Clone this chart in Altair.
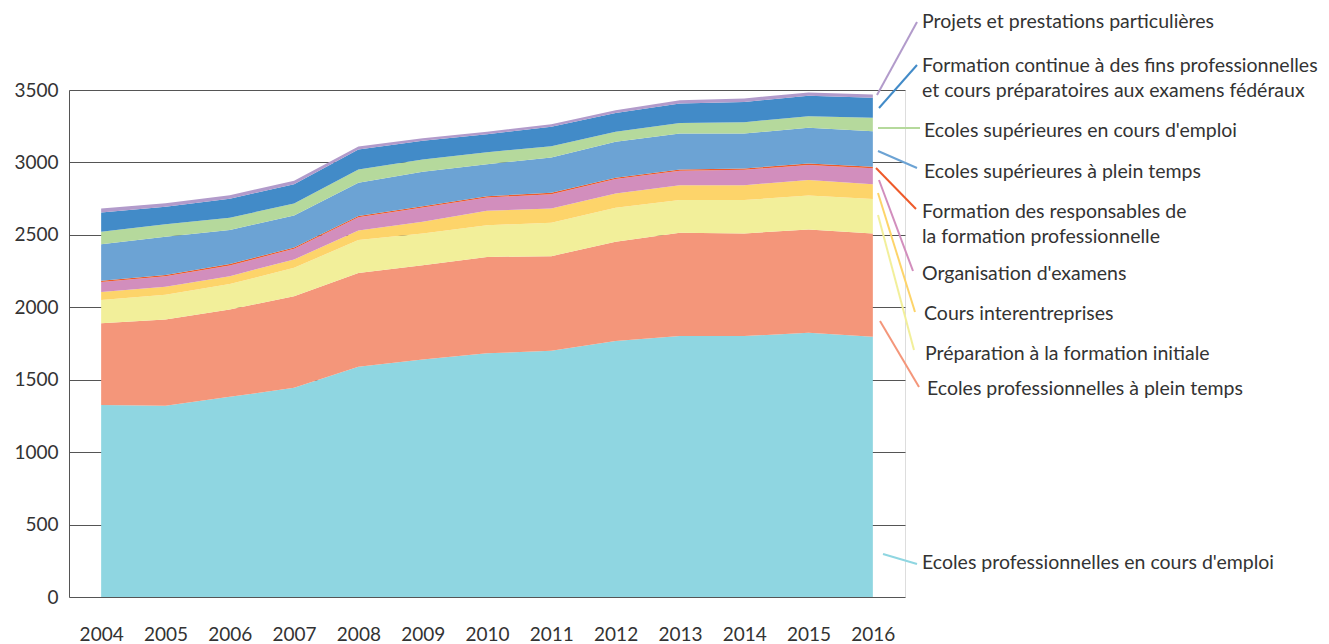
import altair as alt
import pandas as pd

years = list(range(2004, 2017))

series_names = [
    "Ecoles professionnelles en cours d'emploi",
    "Ecoles professionnelles à plein temps",
    "Préparation à la formation initiale",
    "Cours interentreprises",
    "Organisation d'examens",
    "Formation des responsables de la formation professionnelle",
    "Ecoles supérieures à plein temps",
    "Ecoles supérieures en cours d'emploi",
    "Formation continue à des fins professionnelles et cours préparatoires aux examens fédéraux",
    "Projets et prestations particulières",
]

ep_emploi = [1325, 1320, 1382, 1444, 1589, 1640, 1682, 1700, 1767, 1801, 1801, 1824, 1796]
ep_plein = [564, 596, 603, 633, 647, 651, 666, 653, 685, 713, 709, 713, 714]
prep_init = [161, 170, 175, 196, 228, 219, 219, 230, 235, 226, 230, 235, 237]
cours_inter = [55, 55, 55, 57, 66, 80, 99, 99, 99, 103, 103, 106, 103]
org_exam = [69, 74, 74, 74, 92, 99, 92, 99, 99, 99, 106, 105, 110]
form_resp = [9, 8, 9, 9, 9, 9, 9, 9, 9, 10, 9, 10, 10]
es_plein = [253, 264, 235, 221, 228, 237, 221, 244, 248, 248, 242, 246, 246]
es_emploi = [85, 86, 85, 83, 93, 86, 83, 78, 69, 73, 78, 80, 92]
form_cont = [134, 121, 131, 133, 138, 128, 124, 134, 131, 134, 140, 141, 138]
projets = [27, 24, 25, 23, 20, 18, 17, 18, 19, 23, 24, 23, 23]

series_values = [ep_emploi, ep_plein, prep_init, cours_inter, org_exam,
                 form_resp, es_plein, es_emploi, form_cont, projets]

colors = ["#8fd6e1", "#f4967a", "#f2ef9a", "#fdd46a", "#d28ebd",
          "#ee5a2a", "#6ca3d4", "#b5d99c", "#428bc8", "#b29bcb"]

y_ticks = [0, 500, 1000, 1500, 2000, 2500, 3000, 3500]

rows = []
for i, (name, vals) in enumerate(zip(series_names, series_values)):
    for yr, v in zip(years, vals):
        rows.append({"year": yr, "value": v, "series": name, "idx": i})
df = pd.DataFrame(rows)

# legend labels (text lines) and leader lines, positioned in plot pixels
label_lines = [
    ("Projets et prestations particulières", 853, -68),
    ("Formation continue à des fins professionnelles", 853, -24),
    ("et cours préparatoires aux examens fédéraux", 853, 1),
    ("Ecoles supérieures en cours d'emploi", 855, 41),
    ("Ecoles supérieures à plein temps", 855, 82),
    ("Formation des responsables de", 853, 122),
    ("la formation professionnelle", 853, 147),
    ("Organisation d'examens", 853, 184),
    ("Cours interentreprises", 855, 224),
    ("Préparation à la formation initiale", 856, 264),
    ("Ecoles professionnelles à plein temps", 858, 299),
    ("Ecoles professionnelles en cours d'emploi", 853, 473),
]
labels_df = pd.DataFrame(label_lines, columns=["text", "px", "py"])

leaders = [
    (colors[9], 808, 5, 848, -68),
    (colors[8], 810, 18, 848, -25),
    (colors[7], 809, 38, 851, 38),
    (colors[6], 809, 61, 848, 78),
    (colors[5], 807, 78, 847, 119),
    (colors[4], 810, 90, 844, 181),
    (colors[3], 809, 103, 846, 222),
    (colors[2], 809, 125, 845, 260),
    (colors[1], 811, 231, 850, 297),
    (colors[0], 814, 464, 848, 474),
]
leaders_df = pd.DataFrame(leaders, columns=["col", "x1", "y1", "x2", "y2"])

W, H = 836, 507

area = alt.Chart(df).mark_area(interpolate="linear").encode(
    x=alt.X("year:Q", scale=alt.Scale(domain=[2003.5, 2016.5], nice=False, zero=False),
            axis=alt.Axis(values=years, format="d", title=None, grid=False, domain=False,
                          ticks=False, labelPadding=28, labelFontSize=19, labelColor="#333",
                          labelFont="Lato", labelFontWeight="normal")),
    y=alt.Y("value:Q", stack="zero", scale=alt.Scale(domain=[0, 3500], nice=False),
            axis=alt.Axis(values=y_ticks, format="d", title=None, grid=True, gridColor="#555",
                          gridWidth=1, domain=True, domainColor="#555", ticks=False,
                          labelPadding=11, labelFontSize=19, labelColor="#333",
                          labelFont="Lato", labelFontWeight="normal")),
    color=alt.Color("series:N", scale=alt.Scale(domain=series_names, range=colors), legend=None),
    order=alt.Order("idx:Q", sort="ascending"),
)

lines = alt.Chart(leaders_df).mark_rule(strokeWidth=2).encode(
    x=alt.X("x1:Q", scale=None),
    y=alt.Y("y1:Q", scale=None),
    x2="x2:Q",
    y2="y2:Q",
    color=alt.Color("col:N", scale=None),
)

texts = alt.Chart(labels_df).mark_text(align="left", baseline="middle", font="Lato",
                                       fontSize=19.5, color="#333").encode(
    x=alt.X("px:Q", scale=None),
    y=alt.Y("py:Q", scale=None),
    text="text:N",
)

chart = alt.layer(area, lines, texts).properties(
    width=W, height=H,
    autosize=alt.AutoSizeParams(type="none"),
    padding={"left": 61, "top": 82, "right": 416, "bottom": 50},
).configure_view(stroke=None).configure(font="Lato")

chart.save("out.html", embed_options={"renderer": "svg", "actions": False})
